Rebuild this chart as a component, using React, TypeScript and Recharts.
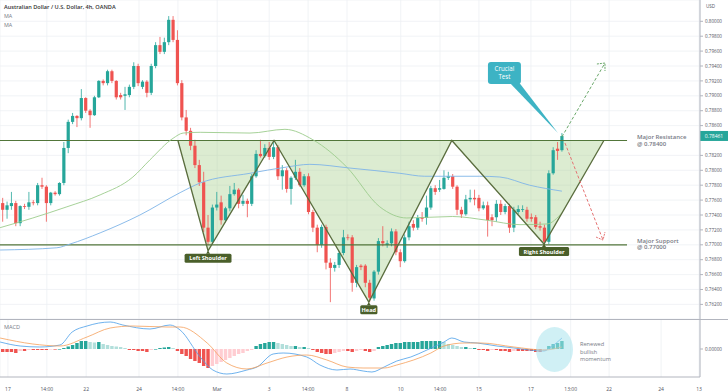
import React from "react";
import {
  Area,
  Bar,
  CartesianGrid,
  ComposedChart,
  Line,
  ReferenceDot,
  ReferenceLine,
  XAxis,
  YAxis,
} from "recharts";

// AUD/USD 4h, inverse head & shoulders with MACD pane underneath.

const FONT = "'Open Sans', Roboto, sans-serif";
const UP = "#26a69a";
const DOWN = "#ef5350";
const AXIS = "#b2b5be";
const GRID = "#eef0f4";
const PATTERN = "#5a6d3e";
const TAG = "#4a5f2a";
const NOTE = "#787b86";

const RESISTANCE = 0.784;
const SUPPORT = 0.77;
const LAST_PRICE = 0.78461;

const opens = [
  0.7756, 0.7747, 0.7752, 0.7756, 0.7729, 0.7752, 0.7751, 0.7757, 0.7756, 0.778,
  0.7778, 0.7756, 0.777, 0.7768, 0.7783, 0.783, 0.7865, 0.7873, 0.787, 0.7897,
  0.788, 0.7874, 0.7898, 0.792, 0.7917, 0.7933, 0.792, 0.7901, 0.79, 0.7901,
  0.7912, 0.794, 0.7912, 0.7919, 0.7904, 0.794, 0.7968, 0.7959, 0.7972, 0.8002,
  0.7975, 0.7917, 0.7871, 0.7853, 0.7833, 0.7807, 0.7784, 0.7723, 0.7704, 0.775,
  0.7757, 0.7733, 0.7749, 0.7768, 0.7774, 0.7755, 0.7759, 0.7755, 0.7792, 0.7822,
  0.7819, 0.783, 0.7818, 0.7831, 0.7792, 0.78, 0.7775, 0.779, 0.7798, 0.778,
  0.7792, 0.7744, 0.7723, 0.77, 0.7724, 0.7676, 0.7669, 0.7673, 0.7689, 0.771,
  0.771, 0.7649, 0.7672, 0.7672, 0.7649, 0.7628, 0.7664, 0.7705, 0.77, 0.7702,
  0.7718, 0.769, 0.7678, 0.771, 0.7728, 0.7723, 0.7737, 0.7736, 0.775, 0.7776,
  0.7774, 0.7775, 0.779, 0.7792, 0.7778, 0.7747, 0.7741, 0.7761, 0.7763, 0.7763,
  0.7749, 0.7753, 0.7737, 0.7737, 0.7755, 0.7744, 0.7752, 0.7723, 0.7744, 0.7747,
  0.7747, 0.7737, 0.7737, 0.7725, 0.7723, 0.7704, 0.7796, 0.7829, 0.7827,
];
const highs = [
  0.7763, 0.7758, 0.7771, 0.7759, 0.7753, 0.7755, 0.7771, 0.776, 0.7783, 0.779,
  0.778, 0.7771, 0.7772, 0.7784, 0.7838, 0.7868, 0.7877, 0.7874, 0.7909, 0.7898,
  0.7882, 0.79, 0.7921, 0.7922, 0.7935, 0.7935, 0.7921, 0.7904, 0.7912, 0.7915,
  0.7945, 0.7943, 0.7921, 0.7921, 0.7943, 0.7972, 0.7979, 0.7978, 0.8007, 0.8007,
  0.7988, 0.7921, 0.7881, 0.7857, 0.7841, 0.7814, 0.7798, 0.774, 0.7754, 0.7771,
  0.7766, 0.7751, 0.7779, 0.7783, 0.7776, 0.7767, 0.7762, 0.7795, 0.7827, 0.7841,
  0.7835, 0.7838, 0.7838, 0.7834, 0.7807, 0.7803, 0.7792, 0.7814, 0.7803, 0.7795,
  0.7796, 0.7747, 0.7727, 0.7727, 0.7727, 0.7682, 0.7677, 0.7692, 0.772, 0.7714,
  0.7713, 0.7673, 0.7674, 0.7674, 0.7653, 0.7666, 0.7709, 0.7725, 0.7706, 0.7722,
  0.7721, 0.7694, 0.7714, 0.7731, 0.7733, 0.774, 0.7744, 0.7766, 0.7779, 0.778,
  0.7787, 0.78, 0.7798, 0.7795, 0.778, 0.7751, 0.7767, 0.7774, 0.7774, 0.7767,
  0.7758, 0.7758, 0.7741, 0.776, 0.776, 0.7755, 0.7755, 0.7751, 0.7753, 0.7753,
  0.7751, 0.7742, 0.774, 0.7731, 0.7727, 0.78, 0.7831, 0.7838, 0.785,
];
const lows = [
  0.7731, 0.7735, 0.7747, 0.7725, 0.7725, 0.7748, 0.7747, 0.7753, 0.7753, 0.7775,
  0.7731, 0.7753, 0.7766, 0.7766, 0.778, 0.7823, 0.7862, 0.7858, 0.7867, 0.7877,
  0.7857, 0.7873, 0.7897, 0.7914, 0.7914, 0.7917, 0.7895, 0.7895, 0.7881, 0.7898,
  0.7909, 0.7913, 0.7909, 0.7898, 0.7901, 0.7937, 0.7956, 0.7956, 0.7968, 0.7972,
  0.7914, 0.7867, 0.7847, 0.7827, 0.7803, 0.7779, 0.7717, 0.77, 0.7701, 0.7746,
  0.7727, 0.773, 0.7745, 0.7766, 0.7749, 0.7752, 0.7737, 0.7752, 0.779, 0.7817,
  0.7817, 0.7814, 0.7815, 0.7787, 0.7774, 0.777, 0.7754, 0.7787, 0.7778, 0.7778,
  0.7741, 0.7717, 0.769, 0.7696, 0.7667, 0.7623, 0.7664, 0.7669, 0.7686, 0.7706,
  0.7637, 0.7643, 0.7666, 0.7643, 0.7623, 0.7625, 0.766, 0.7698, 0.7696, 0.7698,
  0.7686, 0.767, 0.7676, 0.7706, 0.7719, 0.772, 0.7731, 0.7727, 0.7747, 0.7767,
  0.7771, 0.7774, 0.7787, 0.7775, 0.774, 0.7736, 0.7739, 0.7757, 0.7753, 0.7745,
  0.7747, 0.7711, 0.7725, 0.7731, 0.774, 0.7741, 0.7716, 0.7717, 0.7741, 0.7744,
  0.7731, 0.7731, 0.7721, 0.7719, 0.77, 0.7701, 0.7794, 0.7814, 0.7825,
];
const closes = [
  0.7747, 0.7753, 0.7756, 0.7729, 0.7752, 0.7751, 0.7757, 0.7756, 0.778, 0.7778,
  0.7756, 0.777, 0.7768, 0.7783, 0.783, 0.7865, 0.7873, 0.787, 0.7897, 0.788,
  0.7874, 0.7898, 0.792, 0.7917, 0.7933, 0.792, 0.7898, 0.7898, 0.7902, 0.7912,
  0.794, 0.7917, 0.7919, 0.7904, 0.794, 0.7968, 0.7959, 0.7972, 0.8002, 0.7975,
  0.7917, 0.7871, 0.7853, 0.7833, 0.7807, 0.7784, 0.7723, 0.7704, 0.775, 0.7754,
  0.7733, 0.7749, 0.7768, 0.7774, 0.7755, 0.7759, 0.7755, 0.7792, 0.7822, 0.7819,
  0.783, 0.7818, 0.7831, 0.7792, 0.78, 0.7775, 0.779, 0.7798, 0.778, 0.7792,
  0.7744, 0.7723, 0.77, 0.7724, 0.7676, 0.7669, 0.7673, 0.7689, 0.771, 0.7709,
  0.7649, 0.767, 0.767, 0.7649, 0.7629, 0.7664, 0.7705, 0.7702, 0.7702, 0.7718,
  0.769, 0.7678, 0.771, 0.7725, 0.7723, 0.7736, 0.7735, 0.775, 0.7776, 0.7771,
  0.7776, 0.779, 0.7792, 0.7778, 0.7747, 0.7741, 0.7761, 0.7763, 0.7761, 0.7749,
  0.7753, 0.7733, 0.7733, 0.7755, 0.7744, 0.7752, 0.7723, 0.7747, 0.7748, 0.7748,
  0.7735, 0.7735, 0.7724, 0.7723, 0.7704, 0.7796, 0.7827, 0.7826, 0.7846,
];

// moving averages, read at a handful of candle positions
const maGreen: [number, number][] = [
  [-0.6, 0.7723], [6.9, 0.7736], [14.7, 0.7751], [22.3, 0.7767], [29.8, 0.7791],
  [33.7, 0.7814], [39, 0.7843], [41.3, 0.785], [45.2, 0.7851], [56.6, 0.785],
  [64.6, 0.7855], [71, 0.7841], [78.8, 0.7804], [86.3, 0.7751], [92.5, 0.7736],
  [103, 0.7738], [110.8, 0.7733], [118.4, 0.7727], [124.6, 0.7728], [128, 0.7743],
];
const maBlue: [number, number][] = [
  [-0.6, 0.7693], [12.4, 0.7696], [15.4, 0.7701], [22.3, 0.7716], [31.4, 0.774],
  [40.6, 0.777], [45.2, 0.7783], [56.6, 0.7796], [64.6, 0.7804], [70.3, 0.7808],
  [79.5, 0.7803], [90.9, 0.7796], [96.6, 0.7792], [109.2, 0.7792], [113.8, 0.7791],
  [120.6, 0.778], [128, 0.7772],
];

// inverse head & shoulders outline
const patternX = [40.1, 47.0, 62.1, 83.8, 102.8, 123.9, 137.6];
const patternY = [0.784, 0.7692, 0.784, 0.7623, 0.784, 0.7701, 0.784];
const patternNames = ["", "Left Shoulder", "", "Head", "", "Right Shoulder", ""];

// MACD pane
const macdLine: [number, number][] = [
  [-0.6, 0.0007], [4, 0.0003], [8.5, 0.0002], [13.1, 0.0004], [15.9, 0.0017],
  [19.3, 0.0023], [24.6, 0.0027], [27.5, 0.0024], [33.7, 0.002], [38.3, 0.0024],
  [40.6, 0.0019], [45.2, -0.0008], [48.1, -0.0021], [51.3, -0.0025], [55.9, -0.0021],
  [58.2, -0.0018], [61.9, -0.0005], [64.2, -0.0004], [69.6, -0.0008], [72.6, -0.0016],
  [76.5, -0.0021], [79.5, -0.002], [82.5, -0.0022], [84.5, -0.0023], [87.3, -0.0018],
  [90.2, -0.0012], [93.4, -0.0008], [97.1, -0.0001], [101, 0.0007], [102.8, 0.0011],
  [105.6, 0.0007], [108.6, 0.0006], [113.1, 0.0003], [117, 0.0001], [123.9, -0.0002],
  [125.5, 0.0002], [128, 0.0011],
];
const signalLine: [number, number][] = [
  [-0.6, 0.0011], [6.9, 0.0005], [13.1, 0.0003], [19.3, 0.0012], [24.6, 0.0021],
  [29.8, 0.0023], [37.6, 0.0022], [40.6, 0.0022], [46.8, 0.0006], [51.3, -0.0014],
  [55.9, -0.002], [60.5, -0.0014], [65.1, -0.0008], [69.6, -0.0006], [74.2, -0.0011],
  [78.8, -0.0018], [82.5, -0.0019], [87.3, -0.0019], [90.2, -0.0016], [98, -0.0004],
  [101, 0.0003], [105.6, 0.0006], [109.5, 0.0006], [117, 0.0002], [123.9, -0.0001],
  [128, 0.0002],
];
const histogram = [
  -0.0003, -0.0003, -0.0003, -0.0004, -0.0002, -0.0002, -0.0001, -0.0001, -0.0001, -0.0001,
  -0.0001, -0.00005, -0.00005, 0, 0.0001, 0.00025, 0.0004, 0.0006, 0.0008, 0.0008,
  0.0007, 0.00065, 0.0007, 0.0005, 0.0004, 0.0003, 0.00025, 0.0002, 0.0001, -0.0001,
  -0.0001, -0.0002, -0.0002, -0.0003, -0.0001, 0, 0.0001, 0.00015, 0.0002, 0.0001,
  -0.0002, -0.0005, -0.0007, -0.001, -0.0012, -0.0014, -0.0017, -0.0019, -0.0017, -0.0015,
  -0.0013, -0.0011, -0.0009, -0.0007, -0.0005, -0.0004, -0.0002, -0.0001, 0.0003, 0.0005,
  0.0006, 0.0007, 0.0007, 0.0006, 0.0005, 0.0004, 0.0003, 0.0003, 0.0002, 0.0002,
  0.0001, -0.0001, -0.0003, -0.0004, -0.0005, -0.0005, -0.0004, -0.0003, -0.0002, -0.0002,
  -0.0003, -0.0002, -0.0001, -0.0002, -0.0003, -0.0002, 0.0002, 0.0003, 0.0004, 0.0005,
  0.0006, 0.0006, 0.0007, 0.0007, 0.0007, 0.0007, 0.0008, 0.0008, 0.0008, 0.0008,
  0.0008, 0.0007, 0.0005, 0.0004, 0.0003, 0.0002, 0.0002, 0.0001, 0.0001, -0.0001,
  -0.0001, -0.0002, -0.0001, -0.0001, -0.0002, -0.0002, -0.0003, -0.0002, -0.0002, -0.0002,
  -0.0002, -0.0002, -0.0003, -0.0003, -0.0002, 0.0003, 0.0005, 0.0006, 0.0008,
];

// 0.784 sits under the last-price tag, so it is left out
const priceTicks = [
  0.762, 0.764, 0.766, 0.768, 0.77, 0.772, 0.774, 0.776, 0.778, 0.78,
  0.782, 0.786, 0.788, 0.79, 0.792, 0.794, 0.796, 0.798, 0.8,
];
const timeTicks = [1.2, 10.1, 19.1, 31.2, 40.1, 49.1, 61, 69.9, 78.8, 91.1, 100.1, 109, 120.9, 130, 138.8, 150.7, 159.4];
const timeLabels = ["17", "14:00", "22", "24", "14:00", "Mar", "3", "14:00", "8", "10", "14:00", "15", "17", "13:00", "22", "24", "13"];

const X_DOMAIN: [number, number] = [-0.62, 159.6];

const candles = opens.map((o, i) => ({ i, open: o, high: highs[i], low: lows[i], close: closes[i] }));
const histRows = histogram.map((h, i) => ({ i, h }));
const toPts = (arr: [number, number][]) => arr.map(([i, p]) => ({ i, p }));
const patternPts = patternX.map((i, k) => ({ i, lo: patternY[k], hi: RESISTANCE }));

function histColor(k: number) {
  const v = histogram[k];
  const prev = k > 0 ? histogram[k - 1] : v;
  if (v >= 0) return v >= prev ? UP : "#b2dfdb";
  return v <= prev ? DOWN : "#ffcdd2";
}

function Candle(props: any) {
  const { x, y, width, height, payload } = props;
  if (!payload) return null;
  const { open, close, high, low } = payload;
  const top = height >= 0 ? y : y + height;
  const h = Math.abs(height);
  const k = h / (high - low || 1e-9);
  const color = close >= open ? UP : DOWN;
  const bodyTop = top + (high - Math.max(open, close)) * k;
  const bodyBot = top + (high - Math.min(open, close)) * k;
  const cx = x + width / 2;
  return (
    <g>
      <line x1={cx} x2={cx} y1={top} y2={top + h} stroke={color} strokeWidth={0.8} />
      <rect x={cx - 1.6} y={bodyTop} width={3.2} height={Math.max(0.8, bodyBot - bodyTop)} fill={color} />
    </g>
  );
}

// histogram bar: the computed band is tiny on a numeric axis, so draw a fixed 3.4px column
function HistBar(props: any) {
  const { x, y, width, height, payload } = props;
  if (!payload) return null;
  const top = height >= 0 ? y : y + height;
  const h = Math.max(0.6, Math.abs(height));
  const cx = x + width / 2;
  return <rect x={cx - 1.7} y={top} width={3.4} height={h} fill={histColor(payload.i)} />;
}

function TimeTick(props: any) {
  const { x, y, payload } = props;
  const idx = timeTicks.indexOf(payload.value);
  return (
    <text x={x} y={y + 6} textAnchor="middle" fontSize={5} fill="#50535e" fontFamily={FONT}>
      {timeLabels[idx] ?? ""}
    </text>
  );
}

function tagShape(text: string) {
  const w = text.length * 3.3 + 4;
  return (p: any) => (
    <g>
      <path d={`M${p.cx},${p.cy} l-2,3 h4 z`} fill={TAG} />
      <rect x={p.cx - w / 2} y={p.cy + 3} width={w} height={9} rx={1.5} fill={TAG} />
      <text x={p.cx} y={p.cy + 9.6} textAnchor="middle" fontSize={5.6} fontWeight={700} fill="#fff" fontFamily={FONT}>
        {text}
      </text>
    </g>
  );
}

function CrucialTest(p: any) {
  const { cx, cy } = p;
  return (
    <g>
      <path d={`M${cx - 52},${cy - 50} L${cx - 4},${cy} L${cx - 44},${cy - 52} Z`} fill="#3db3c4" />
      <rect x={cx - 74} y={cy - 71} width={33} height={22} rx={3} fill="#3db3c4" />
      <text x={cx - 57.5} y={cy - 62} textAnchor="middle" fontSize={6.2} fill="#fff" fontFamily={FONT}>Crucial</text>
      <text x={cx - 57.5} y={cy - 54.5} textAnchor="middle" fontSize={6.2} fill="#fff" fontFamily={FONT}>Test</text>
    </g>
  );
}

function levelNote(title: string, value: string) {
  return (p: any) => (
    <g fontFamily={FONT} fontSize={6} fontWeight={600} fill={NOTE}>
      <text x={p.cx + 10} y={p.cy}>{title}</text>
      <text x={p.cx + 10} y={p.cy + 6.5}>{value}</text>
    </g>
  );
}

function LastPriceTag(p: any) {
  const { viewBox } = p;
  if (!viewBox) return null;
  const x = viewBox.x + viewBox.width;
  const y = viewBox.y;
  return (
    <g>
      <rect x={x} y={y - 5} width={28} height={10} fill={UP} />
      <text x={x + 14} y={y + 2} textAnchor="middle" fontSize={5} fill="#fff" fontFamily={FONT}>
        {LAST_PRICE.toFixed(5)}
      </text>
    </g>
  );
}

function Highlight(p: any) {
  const { cx, cy } = p;
  return (
    <g>
      <ellipse cx={cx} cy={cy} rx={18.5} ry={22.5} fill="#a9e4ec" fillOpacity={0.55} />
      <g fontFamily={FONT} fontSize={5.6} fill={NOTE}>
        <text x={cx + 25.5} y={cy - 3.5}>Renewed</text>
        <text x={cx + 25.5} y={cy + 4}>bullish</text>
        <text x={cx + 25.5} y={cy + 11.5}>momentum</text>
      </g>
    </g>
  );
}

const greenArrow = [{ i: 128, p: 0.7845 }, { i: 137.85, p: 0.7944 }];
const greenHead = [{ i: 136, p: 0.79427 }, { i: 137.85, p: 0.7944 }, { i: 137.85, p: 0.79333 }];
const redArrow = [{ i: 128.7, p: 0.78366 }, { i: 137.4, p: 0.77064 }];
const redHead = [{ i: 135.8, p: 0.77104 }, { i: 137.4, p: 0.77064 }, { i: 137.85, p: 0.77171 }];

export default function App() {
  return (
    <div
      style={{
        position: "absolute",
        left: 0,
        top: 0,
        width: 728,
        height: 391,
        background: "#fff",
        overflow: "hidden",
        fontFamily: FONT,
      }}
    >
      <ComposedChart width={728} height={319} data={candles} margin={{ top: 0, right: 0, bottom: 0, left: 0 }}>
        <CartesianGrid stroke={GRID} strokeWidth={0.8} />
        <XAxis type="number" dataKey="i" domain={X_DOMAIN} ticks={timeTicks} allowDataOverflow hide />
        <YAxis
          orientation="right"
          width={28}
          domain={[0.76004, 0.80286]}
          ticks={priceTicks}
          allowDataOverflow
          interval={0}
          stroke={AXIS}
          tickSize={3}
          tickMargin={2}
          tick={{ fontSize: 4.6, fill: "#50535e", fontFamily: FONT }}
          tickFormatter={(v: number) => v.toFixed(5)}
        />
        <Area
          data={patternPts}
          dataKey={(d: any) => [d.lo, d.hi]}
          type="linear"
          stroke="none"
          fill="#a8d08d"
          fillOpacity={0.4}
          isAnimationActive={false}
        />
        <ReferenceLine
          segment={[{ x: -0.62, y: RESISTANCE }, { x: 142.9, y: RESISTANCE }]}
          stroke="#52763a"
          strokeWidth={1.2}
        />
        <ReferenceLine
          segment={[{ x: -0.62, y: SUPPORT }, { x: 142.9, y: SUPPORT }]}
          stroke="#52763a"
          strokeWidth={1.2}
        />
        <Bar dataKey={(d: any) => [d.low, d.high]} barSize={3} shape={<Candle />} isAnimationActive={false} />
        <Line data={toPts(maGreen)} dataKey="p" type="monotone" stroke="#9ccc8c" strokeWidth={0.9} dot={false} isAnimationActive={false} />
        <Line data={toPts(maBlue)} dataKey="p" type="monotone" stroke="#7fb4e8" strokeWidth={0.9} dot={false} isAnimationActive={false} />
        <Line data={patternPts} dataKey="lo" type="linear" stroke={PATTERN} strokeWidth={1.3} dot={false} isAnimationActive={false} />
        <Line data={greenArrow} dataKey="p" type="linear" stroke="#6aa86a" strokeWidth={1} strokeDasharray="3 2" dot={false} isAnimationActive={false} />
        <Line data={greenHead} dataKey="p" type="linear" stroke="#6aa86a" strokeWidth={1} strokeDasharray="2 1" dot={false} isAnimationActive={false} />
        <Line data={redArrow} dataKey="p" type="linear" stroke="#e57373" strokeWidth={1} strokeDasharray="3 2" dot={false} isAnimationActive={false} />
        <Line data={redHead} dataKey="p" type="linear" stroke="#e57373" strokeWidth={1} strokeDasharray="2 1" dot={false} isAnimationActive={false} />
        <ReferenceLine y={LAST_PRICE} stroke="none" label={<LastPriceTag />} />
        {patternX.map((x, k) =>
          patternNames[k] ? (
            <ReferenceDot key={k} x={x} y={patternY[k]} r={0} shape={tagShape(patternNames[k])} />
          ) : null
        )}
        <ReferenceDot x={128} y={highs[128]} r={0} shape={<CrucialTest />} />
        <ReferenceDot x={142.9} y={RESISTANCE + 0.0002} r={0} shape={levelNote("Major Resistance", "@ 0.78400")} />
        <ReferenceDot x={142.9} y={SUPPORT + 0.0003} r={0} shape={levelNote("Major Support", "@ 0.77000")} />
      </ComposedChart>

      <div style={{ position: "absolute", left: 0, top: 319, width: 728, height: 1, background: AXIS }} />

      <div style={{ position: "absolute", left: 0, top: 320 }}>
        <ComposedChart width={728} height={71} data={histRows} margin={{ top: 0, right: 0, bottom: 0, left: 0 }}>
          <CartesianGrid stroke={GRID} strokeWidth={0.8} horizontal={false} />
          <XAxis
            type="number"
            dataKey="i"
            domain={X_DOMAIN}
            ticks={timeTicks}
            allowDataOverflow
            interval={0}
            height={14}
            stroke={AXIS}
            tickLine={false}
            tick={<TimeTick />}
          />
          <YAxis
            orientation="right"
            width={28}
            domain={[-0.0028, 0.0029]}
            ticks={[0]}
            allowDataOverflow
            stroke={AXIS}
            tickSize={3}
            tickMargin={2}
            tick={{ fontSize: 4.6, fill: "#50535e", fontFamily: FONT }}
            tickFormatter={() => "0.00000"}
          />
          <ReferenceDot x={126.3} y={-0.00005} r={0} shape={<Highlight />} />
          <Bar dataKey="h" barSize={3} shape={<HistBar />} isAnimationActive={false} />
          <Line data={toPts(macdLine)} dataKey="p" type="monotone" stroke="#4a9ee8" strokeWidth={0.8} dot={false} isAnimationActive={false} />
          <Line data={toPts(signalLine)} dataKey="p" type="monotone" stroke="#f5a05a" strokeWidth={0.8} dot={false} isAnimationActive={false} />
        </ComposedChart>
      </div>

      <div style={{ position: "absolute", left: 4, top: 3, fontSize: 5.6, color: "#333", fontWeight: 600, lineHeight: "9px" }}>
        Australian Dollar / U.S. Dollar, 4h, OANDA
      </div>
      <div style={{ position: "absolute", left: 4, top: 12, fontSize: 5.4, color: NOTE, lineHeight: "9px" }}>
        MA
        <br />
        MA
      </div>
      <div style={{ position: "absolute", left: 4, top: 323, fontSize: 5.6, color: NOTE, lineHeight: "9px" }}>MACD</div>
      <div style={{ position: "absolute", left: 706, top: 2, fontSize: 4.6, color: "#50535e", lineHeight: "8px" }}>USD</div>
    </div>
  );
}
